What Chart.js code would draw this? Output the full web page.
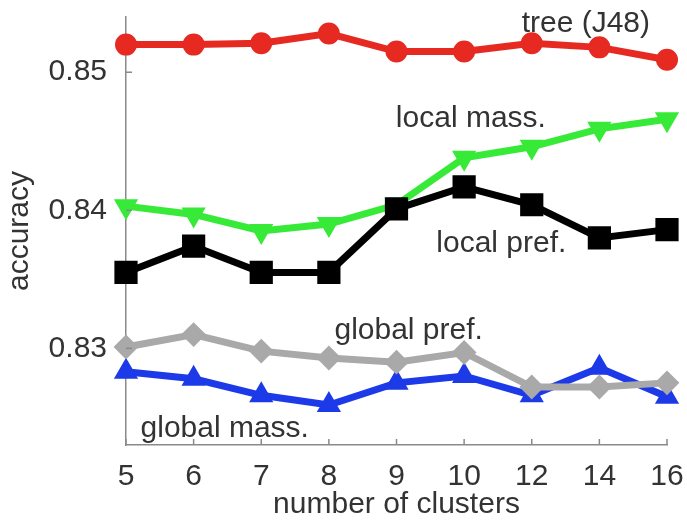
<!DOCTYPE html>
<html>
<head>
<meta charset="utf-8">
<script src="https://cdn.jsdelivr.net/npm/chart.js@4.4.0/dist/chart.umd.min.js"></script>
<style>
  html, body { margin: 0; padding: 0; background: #fff; }
  #wrap { width: 687px; height: 520px; }
</style>
</head>
<body>
<div id="wrap"><canvas id="accChart"></canvas></div>
<script>
// number of clusters (evenly spaced categories)
const clusters = ['5', '6', '7', '8', '9', '10', '12', '14', '16'];
const yTicks = [0.83, 0.84, 0.85];

// accuracy per method
const treeJ48     = [0.8520, 0.8520, 0.8521, 0.8528, 0.8515, 0.8515, 0.8521, 0.8518, 0.8509];
const localMass   = [0.8403, 0.8397, 0.8385, 0.8390, 0.8404, 0.8438, 0.8446, 0.8459, 0.8466];
const localPref   = [0.8355, 0.8374, 0.8355, 0.8355, 0.8401, 0.8417, 0.8404, 0.8380, 0.8386];
const globalPref  = [0.8301, 0.8310, 0.8298, 0.8293, 0.8290, 0.8297, 0.8272, 0.8272, 0.8275];
const globalMass  = [0.8283, 0.8278, 0.8266, 0.8259, 0.8275, 0.8280, 0.8266, 0.8286, 0.8265];

// in-plot labels: text, category index, accuracy value
const seriesLabels = [
  { text: 'tree (J48)',   x: 6.80, y: 0.8535 },
  { text: 'local mass.',  x: 5.10, y: 0.8466 },
  { text: 'local pref.',  x: 5.55, y: 0.8376 },
  { text: 'global pref.', x: 4.18, y: 0.8313 },
  { text: 'global mass.', x: 1.46, y: 0.8242 }
];

const FONT = "'Liberation Sans', Arial, sans-serif";
const TXT = '#333333';
const AXIS = '#8a8a8a';

function series(label, data, color, style, radius, extra) {
  return Object.assign({
    label: label,
    data: data,
    borderColor: color,
    backgroundColor: color,
    pointBackgroundColor: color,
    pointBorderColor: color,
    borderWidth: 7,
    pointStyle: style,
    pointRadius: radius,
    pointBorderWidth: 2,
    tension: 0,
    clip: false
  }, extra || {});
}

// inward tick marks + text labels next to the lines
const plotExtras = {
  id: 'plotExtras',
  afterDatasetsDraw(chart) {
    const { ctx, scales: { x, y }, chartArea } = chart;
    ctx.save();
    ctx.strokeStyle = AXIS;
    ctx.lineWidth = 1.5;
    clusters.forEach((c, i) => {
      const px = x.getPixelForValue(i);
      ctx.beginPath();
      ctx.moveTo(px, chartArea.bottom);
      ctx.lineTo(px, chartArea.bottom - 6);
      ctx.stroke();
    });
    yTicks.forEach(v => {
      const py = y.getPixelForValue(v);
      ctx.beginPath();
      ctx.moveTo(chartArea.left, py);
      ctx.lineTo(chartArea.left + 6, py);
      ctx.stroke();
    });
    ctx.fillStyle = TXT;
    ctx.font = '30px ' + FONT;
    ctx.textAlign = 'center';
    ctx.textBaseline = 'middle';
    seriesLabels.forEach(l => {
      ctx.fillText(l.text, x.getPixelForValue(l.x), y.getPixelForValue(l.y));
    });
    ctx.restore();
  }
};

new Chart(document.getElementById('accChart'), {
  type: 'line',
  data: {
    labels: clusters,
    datasets: [
      series('tree (J48)', treeJ48, '#e62a22', 'circle', 10),
      series('local pref.', localPref, '#000000', 'rect', 15),
      series('local mass.', localMass, '#38ea38', 'triangle', 12, { pointRotation: 180 }),
      series('global pref.', globalPref, '#a9a9a9', 'rectRot', 11),
      series('global mass.', globalMass, '#1c3ae8', 'triangle', 12)
    ]
  },
  options: {
    responsive: true,
    maintainAspectRatio: false,
    animation: false,
    devicePixelRatio: 1,
    layout: { padding: { left: 0, right: 20, top: 15, bottom: 0 } },
    plugins: {
      legend: { display: false },
      tooltip: { enabled: false }
    },
    scales: {
      x: {
        type: 'category',
        offset: false,
        grid: { display: false },
        border: { display: true, color: AXIS, width: 1.5 },
        ticks: { font: { family: FONT, size: 30, lineHeight: 1 }, color: TXT, padding: 9, maxRotation: 0, autoSkip: false },
        title: {
          display: true,
          text: 'number of clusters',
          font: { family: FONT, size: 30, lineHeight: 1 },
          color: TXT,
          padding: { top: 0, bottom: 0 }
        },
        afterFit(scale) {
          scale.height = 75;
          scale.paddingLeft = 0;
          scale.paddingRight = 0;
        }
      },
      y: {
        min: 0.823,
        max: 0.854,
        grid: { display: false },
        border: { display: true, color: AXIS, width: 1.5 },
        afterBuildTicks(scale) { scale.ticks = yTicks.map(v => ({ value: v })); },
        ticks: {
          font: { family: FONT, size: 30, lineHeight: 1 },
          color: TXT,
          padding: 11,
          callback: v => v.toFixed(2)
        },
        title: {
          display: true,
          text: 'accuracy',
          font: { family: FONT, size: 30, lineHeight: 1 },
          color: TXT,
          padding: { top: 5, bottom: 0 }
        },
        afterFit(scale) {
          scale.width = 126;
          scale.paddingTop = 0;
          scale.paddingBottom = 0;
        }
      }
    }
  },
  plugins: [plotExtras]
});
</script>
</body>
</html>
